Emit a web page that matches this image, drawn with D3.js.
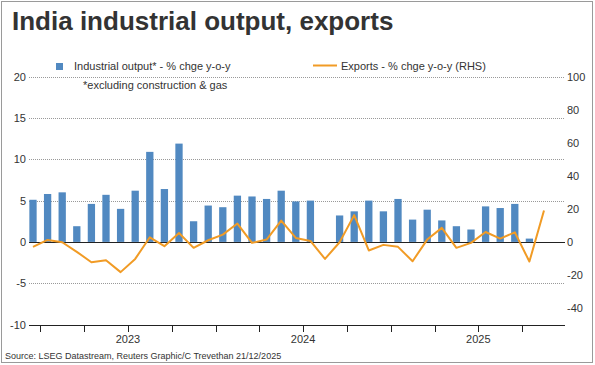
<!DOCTYPE html>
<html>
  <head>
    <meta charset="utf-8" />
    <script src="https://d3js.org/d3.v7.min.js"></script>
    <style>
      body { margin: 0; background: #ffffff; }
      svg { font-family: "Liberation Sans", Arial, sans-serif; }
      .title { font-size: 26px; font-weight: bold; fill: #333333; }
      .lbl { font-size: 11px; fill: #333333; }
      .src { font-size: 9px; fill: #333333; }
      .grid { stroke: #999999; stroke-dasharray: 1,1; shape-rendering: crispEdges; }
      .bar { fill: #5189c1; }
      .exports { stroke: #f19b25; stroke-width: 2; fill: none; stroke-linejoin: round; }
    </style>
  </head>
  <body>
    <svg width="595" height="365"></svg>

    <script type="text/javascript">

    // months, Dec 2022 .. Nov 2025
    var months = [
      "Dec 2022", "Jan 2023", "Feb 2023", "Mar 2023", "Apr 2023", "May 2023",
      "Jun 2023", "Jul 2023", "Aug 2023", "Sep 2023", "Oct 2023", "Nov 2023",
      "Dec 2023", "Jan 2024", "Feb 2024", "Mar 2024", "Apr 2024", "May 2024",
      "Jun 2024", "Jul 2024", "Aug 2024", "Sep 2024", "Oct 2024", "Nov 2024",
      "Dec 2024", "Jan 2025", "Feb 2025", "Mar 2025", "Apr 2025", "May 2025",
      "Jun 2025", "Jul 2025", "Aug 2025", "Sep 2025", "Oct 2025", "Nov 2025" ];

    // industrial output, % y-o-y (LHS); no Nov 2025 figure yet
    var output = [
      5.1, 5.8, 6.0, 1.9, 4.6, 5.7, 4.0, 6.2, 10.9, 6.4, 11.9, 2.5,
      4.4, 4.2, 5.6, 5.5, 5.2, 6.2, 4.9, 5.0, 0.0, 3.2, 3.7, 5.0,
      3.7, 5.2, 2.7, 3.9, 2.6, 1.9, 1.5, 4.3, 4.1, 4.6, 0.4, null ];

    // exports, % y-o-y (RHS)
    var exportsChg = [
      -3.0, 1.2, -0.2, -6.0, -12.3, -11.1, -18.3, -10.3, 2.8, -2.6, 5.4, -3.6,
      1.0, 4.4, 11.1, -0.6, 1.4, 12.9, 2.4, 0.6, -10.3, -0.2, 16.2, -5.2,
      -1.8, -3.0, -11.7, 1.4, 8.5, -3.6, -0.6, 6.0, 2.0, 5.8, -11.9, 19.0 ];

    var leftTicks = [-10, -5, 0, 5, 10, 15, 20];
    var rightTicks = [-40, -20, 0, 20, 40, 60, 80, 100];
    // quarter boundaries (between month slots) and mid-year label positions
    var quarterTicks = [0.5, 3.5, 6.5, 9.5, 12.5, 15.5, 18.5, 21.5, 24.5, 27.5, 30.5, 33.5];
    var yearLabels = [ { at: 6.5, text: "2023" }, { at: 18.5, text: "2024" }, { at: 30.5, text: "2025" } ];

    var svg = d3.select("svg");

    var plotL = 29, plotR = 565, plotT = 76.7, plotB = 324.5;

    var x = d3.scaleLinear().domain([0, 35]).range([33, 544]);
    var yL = d3.scaleLinear().domain([-10, 20]).range([plotB, plotT]);
    var yR = d3.scaleLinear().domain([-50, 100]).range([plotB, plotT]);
    var barW = 7.3;

    // frame
    svg.append("rect")
      .attr("x", 1.5).attr("y", 1.5).attr("width", 591).attr("height", 361)
      .attr("fill", "none").attr("stroke", "#9a9a9a");

    svg.append("text").attr("class", "title")
      .attr("x", 12).attr("y", 30)
      .text("India industrial output, exports");

    // gridlines
    svg.selectAll(".grid")
      .data(leftTicks.filter(function(d) { return d !== 0 && d !== -10; }))
      .enter().append("line")
      .attr("class", "grid")
      .attr("x1", plotL).attr("x2", plotR)
      .attr("y1", function(d) { return Math.round(yL(d)) + 0.5; })
      .attr("y2", function(d) { return Math.round(yL(d)) + 0.5; });

    // left labels
    svg.selectAll(".lTick")
      .data(leftTicks)
      .enter().append("text")
      .attr("class", "lbl")
      .attr("x", 26).attr("y", function(d) { return yL(d) + 4; })
      .attr("text-anchor", "end")
      .text(function(d) { return d; });

    // right labels
    svg.selectAll(".rTick")
      .data(rightTicks)
      .enter().append("text")
      .attr("class", "lbl")
      .attr("x", 567).attr("y", function(d) { return yR(d) + 4; })
      .text(function(d) { return d; });

    // bars
    svg.selectAll(".bar")
      .data(output.map(function(v, i) { return { i: i, v: v }; })
        .filter(function(d) { return d.v !== null; }))
      .enter().append("rect")
      .attr("class", "bar")
      .attr("x", function(d) { return x(d.i) - barW / 2; })
      .attr("width", barW)
      .attr("y", function(d) { return yL(Math.max(0, d.v)); })
      .attr("height", function(d) { return Math.abs(yL(d.v) - yL(0)); });

    // zero line
    svg.append("line")
      .attr("x1", plotL).attr("x2", plotR)
      .attr("y1", Math.round(yL(0)) + 0.5).attr("y2", Math.round(yL(0)) + 0.5)
      .attr("stroke", "#222222").attr("shape-rendering", "crispEdges");

    // exports line
    var line = d3.line()
      .x(function(d, i) { return x(i); })
      .y(function(d) { return yR(d); });

    svg.append("path")
      .datum(exportsChg)
      .attr("class", "exports")
      .attr("d", line);

    // x axis
    var axisY = Math.round(plotB) + 0.5;
    svg.append("line")
      .attr("x1", plotL).attr("x2", plotR)
      .attr("y1", axisY).attr("y2", axisY)
      .attr("stroke", "#222222").attr("shape-rendering", "crispEdges");

    svg.selectAll(".xTick")
      .data(quarterTicks)
      .enter().append("line")
      .attr("x1", function(d) { return Math.round(x(d)) + 0.5; })
      .attr("x2", function(d) { return Math.round(x(d)) + 0.5; })
      .attr("y1", axisY).attr("y2", axisY + 6)
      .attr("stroke", "#222222").attr("shape-rendering", "crispEdges");

    svg.selectAll(".year")
      .data(yearLabels)
      .enter().append("text")
      .attr("class", "lbl")
      .attr("x", function(d) { return x(d.at); })
      .attr("y", 343)
      .attr("text-anchor", "middle")
      .text(function(d) { return d.text; });

    // legend
    svg.append("rect").attr("class", "bar")
      .attr("x", 56).attr("y", 63).attr("width", 7).attr("height", 7);
    svg.append("text").attr("class", "lbl")
      .attr("x", 74).attr("y", 70)
      .text("Industrial output* - % chge y-o-y");
    svg.append("text").attr("class", "lbl")
      .attr("x", 83).attr("y", 89)
      .text("*excluding construction & gas");

    svg.append("line").attr("class", "exports")
      .attr("x1", 313).attr("x2", 337).attr("y1", 65.5).attr("y2", 65.5);
    svg.append("text").attr("class", "lbl")
      .attr("x", 341).attr("y", 70)
      .text("Exports - % chge y-o-y (RHS)");

    svg.append("text").attr("class", "src")
      .attr("x", 5).attr("y", 359)
      .text("Source: LSEG Datastream, Reuters Graphic/C Trevethan 21/12/2025");

    </script>
  </body>
</html>
